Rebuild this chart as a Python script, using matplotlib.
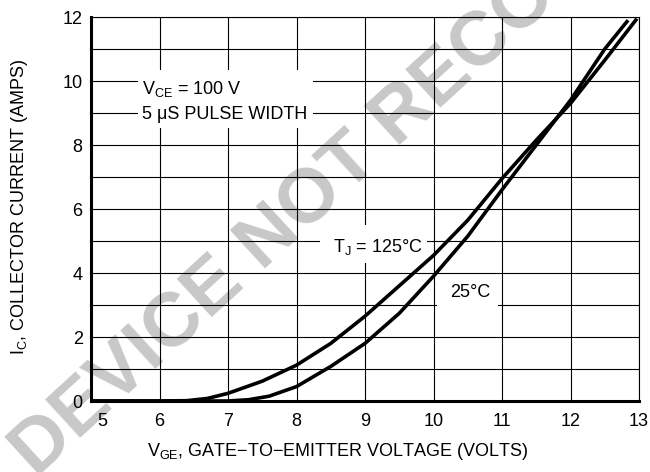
import matplotlib
matplotlib.use("Agg")
import matplotlib.pyplot as plt
import matplotlib.transforms as mtransforms
from matplotlib.patches import Rectangle

FONT = "Liberation Sans"
plt.rcParams["font.family"] = [FONT, "DejaVu Sans"]
plt.rcParams["mathtext.fontset"] = "custom"
plt.rcParams["mathtext.rm"] = FONT
plt.rcParams["mathtext.it"] = FONT
plt.rcParams["mathtext.bf"] = FONT

# ---- data ----
vge_125 = [5.0, 6.0, 6.4, 6.7, 7.0, 7.5, 8.0, 8.5, 9.0, 9.5, 10.0, 10.5, 11.0, 11.5, 12.0, 12.5, 12.97]
ic_125 = [0.0, 0.0, 0.01, 0.08, 0.24, 0.62, 1.12, 1.8, 2.65, 3.6, 4.55, 5.65, 6.95, 8.15, 9.3, 10.65, 11.95]

vge_25 = [5.0, 7.0, 7.3, 7.6, 7.8, 8.0, 8.5, 9.0, 9.5, 10.0, 10.5, 11.0, 11.5, 12.0, 12.5, 12.84]
ic_25 = [0.0, 0.0, 0.04, 0.15, 0.3, 0.45, 1.08, 1.8, 2.74, 3.9, 5.15, 6.6, 8.0, 9.4, 11.0, 11.9]

x_ticks = [5, 6, 7, 8, 9, 10, 11, 12, 13]
y_ticks = [0, 2, 4, 6, 8, 10, 12]
y_grid = list(range(0, 13))

label_vce = "V$_{\\mathrm{CE}}$ = 100 V"
label_pulse = "5 \u03bcS PULSE WIDTH"
label_125 = "T$_{\\mathrm{J}}$ = 125\u00b0C"
label_25 = "25\u00b0C"
xlabel = "V$_{\\mathrm{GE}}$, GATE\u2212TO\u2212EMITTER VOLTAGE (VOLTS)"
ylabel = "I$_{\\mathrm{C}}$, COLLECTOR CURRENT (AMPS)"
watermark = "DEVICE NOT RECOMMENDED FOR NEW DESIGN"

W, H = 650, 472
fig = plt.figure(figsize=(6.5, 4.72), dpi=100)
ax = fig.add_axes([91 / W, 1 - 401 / H, (639 - 91) / W, (401 - 17) / H])
ax.set_facecolor("none")

# watermark behind everything
fig.text(36 / W, 1 - 478 / H, watermark, rotation=42.5, rotation_mode="anchor",
         ha="left", va="baseline", fontsize=55, fontweight="bold",
         color="#c8c8c8", family=FONT, zorder=-5)

ax.set_xlim(5, 13)
ax.set_ylim(0, 12)
ax.set_xticks(x_ticks)
ax.set_yticks(y_ticks)
ax.set_yticks(y_grid, minor=True)
ax.grid(True, which="both", color="black", linewidth=0.8)
ax.tick_params(which="both", length=0, labelsize=13)
ax.tick_params(axis="x", pad=9)
ax.tick_params(axis="y", pad=6)
ax.set_axisbelow(True)

for side in ("left", "bottom"):
    ax.spines[side].set_linewidth(2.2)
for side in ("top", "right"):
    ax.spines[side].set_linewidth(0.8)

ax.plot(vge_125, ic_125, color="black", linewidth=2.6, solid_capstyle="butt", zorder=4)
ax.plot(vge_25, ic_25, color="black", linewidth=2.6, solid_capstyle="butt", zorder=4)

# white boxes behind the annotations (they interrupt the grid)
for (x0, x1, y0, y1) in [(5.69, 8.24, 8.53, 10.34), (8.34, 9.90, 4.31, 5.50), (10.05, 10.94, 2.80, 3.80)]:
    ax.add_patch(Rectangle((x0, y0), x1 - x0, y1 - y0, facecolor="white", edgecolor="none", zorder=3))

ax.text(5.745, 9.60, label_vce, fontsize=13, ha="left", va="baseline", zorder=5)
ax.text(5.745, 8.80, label_pulse, fontsize=13, ha="left", va="baseline", zorder=5)
ax.text(8.53, 4.66, label_125, fontsize=13, ha="left", va="baseline", zorder=5)
ax.text(10.24, 3.25, label_25, fontsize=13, ha="left", va="baseline", zorder=5)

fig.text(338 / W, 1 - 452 / H, xlabel, ha="center", va="center", fontsize=13)
fig.text(20 / W, 1 - 207 / H, ylabel, ha="center", va="center", rotation=90, fontsize=13)

fig.canvas.draw()
lab5 = ax.get_xticklabels()[0]
lab5.set_transform(lab5.get_transform() + mtransforms.ScaledTranslation(11 / 100, 0, fig.dpi_scale_trans))

fig.savefig("out.png", dpi=100)
